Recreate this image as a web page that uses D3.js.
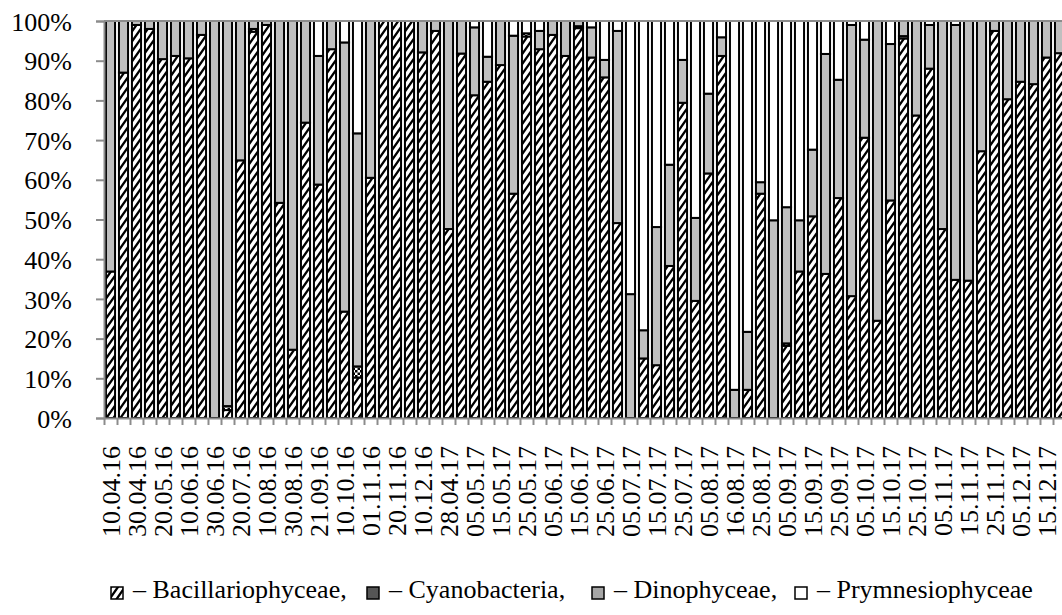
<!DOCTYPE html>
<html>
<head>
<meta charset="utf-8">
<script src="https://cdn.jsdelivr.net/npm/d3@7/dist/d3.min.js"></script>
<style>
  html, body { margin: 0; padding: 0; background: #fff; }
  svg { display: block; }
  text { font-family: "Liberation Serif", "Times New Roman", serif; fill: #000; }
</style>
</head>
<body>
<svg id="chart" width="1062" height="615"></svg>
<script>
// Sampling dates (one label for every second sample)
const dates = ["10.04.16","30.04.16","20.05.16","10.06.16","30.06.16","20.07.16","10.08.16",
  "30.08.16","21.09.16","10.10.16","01.11.16","20.11.16","10.12.16","28.04.17","05.05.17",
  "15.05.17","25.05.17","05.06.17","15.06.17","25.06.17","05.07.17","15.07.17","25.07.17",
  "05.08.17","16.08.17","25.08.17","05.09.17","15.09.17","25.09.17","05.10.17","15.10.17",
  "25.10.17","05.11.17","15.11.17","25.11.17","05.12.17","15.12.17"];

// Share of each group in total phytoplankton, % (74 samples)
const bacillariophyceae = [36.9,87.0,99.0,98.0,90.4,91.2,90.6,96.5,0,2.0,64.9,97.3,99.0,54.2,17.2,74.4,
  58.8,92.9,26.8,10.2,60.5,100,100,100,92.1,97.5,47.6,91.8,81.3,84.7,88.9,56.5,96.1,92.9,96.5,91.2,
  98.2,90.8,85.8,49.1,0,15.0,13.3,38.3,79.4,29.5,61.6,91.2,0,7.1,56.5,0,18.2,36.9,50.8,36.3,55.4,
  30.7,70.6,24.5,54.8,95.6,76.2,88.0,47.6,34.8,34.6,67.2,97.5,80.3,84.7,84.1,90.8,91.9];
const cyanobacteria = [0,0,0,0,0,0,0,0,0,1.0,0,0.7,0,0,0,0,
  0,0,0,2.8,0,0,0,0,0,0,0,0,0,0,0,0,0.8,0,0,0,
  0.5,0,0,0,0,0,0,0,0,0,0,0,0,0,0,0,0.6,0,0,0,0,
  0,0,0,0,0.6,0,0,0,0,0,0,0,0,0,0,0,0];
const dinophyceae = [63.1,13.0,1.0,2.0,9.6,8.8,9.4,3.5,100,97.0,35.1,2.0,1.0,45.8,82.8,25.6,
  32.4,7.1,67.8,58.7,39.5,0,0,0,7.9,2.5,52.4,8.2,17.1,6.3,11.1,39.8,0,4.6,3.5,8.8,
  1.3,7.6,4.4,48.4,31.2,7.1,34.8,25.5,10.8,20.9,20.1,4.7,7.1,14.6,2.9,49.8,34.3,12.9,16.8,55.4,29.8,
  68.3,24.7,75.5,39.4,3.8,23.8,11.0,52.4,64.2,65.4,32.8,2.5,19.7,15.3,15.9,9.2,8.1];
const prymnesiophyceae = [0,0,0,0,0,0,0,0,0,0,0,0,0,0,0,0,
  8.8,0,5.4,28.3,0,0,0,0,0,0,0,0,1.6,9.0,0,3.7,3.1,2.5,0,0,
  0,1.6,9.8,2.5,68.8,77.9,51.9,36.2,9.8,49.6,18.3,4.1,92.9,78.3,40.6,50.2,46.9,50.2,32.4,8.3,14.8,
  1.0,4.7,0,5.8,0,0,1.0,0,1.0,0,0,0,0,0,0,0,0];

const groups = ["Bacillariophyceae","Cyanobacteria","Dinophyceae","Prymnesiophyceae"];
const yTicks = [0,10,20,30,40,50,60,70,80,90,100];
const serif = "Liberation Serif, Times New Roman, serif";

const rows = bacillariophyceae.map((b, i) => ({
  i,
  Bacillariophyceae: b,
  Cyanobacteria: cyanobacteria[i],
  Dinophyceae: dinophyceae[i],
  Prymnesiophyceae: prymnesiophyceae[i]
}));

const svg = d3.select("#chart");
const plotLeft = 104, plotTop = 21, plotBottom = 418;
const step = 13;
const n = rows.length;

// Fill patterns
const defs = svg.append("defs");
const hatch = defs.append("pattern").attr("id", "hatch")
  .attr("patternUnits", "userSpaceOnUse").attr("width", 7).attr("height", 10);
hatch.append("rect").attr("width", 7).attr("height", 10).attr("fill", "#fff");
hatch.append("path").attr("d", "M0,10 L7,0 M-1,1.43 L1,-1.43 M6,11.43 L8,8.57")
  .attr("stroke", "#000").attr("stroke-width", 2.3).attr("stroke-linecap", "square");

const checker = defs.append("pattern").attr("id", "checker")
  .attr("patternUnits", "userSpaceOnUse").attr("width", 5).attr("height", 5);
checker.append("rect").attr("width", 5).attr("height", 5).attr("fill", "#fff");
checker.append("rect").attr("width", 2.5).attr("height", 2.5).attr("fill", "#000");
checker.append("rect").attr("x", 2.5).attr("y", 2.5).attr("width", 2.5).attr("height", 2.5).attr("fill", "#000");

const fills = {
  Bacillariophyceae: "url(#hatch)",
  Cyanobacteria: "url(#checker)",
  Dinophyceae: "#bfbfbf",
  Prymnesiophyceae: "#ffffff"
};

const x = d3.scaleBand().domain(d3.range(n)).range([plotLeft, plotLeft + n * step]).paddingInner(0.3).paddingOuter(0.15);
const xEdge = d3.scaleLinear().domain([0, n]).range([plotLeft, plotLeft + n * step]);
const y = d3.scaleLinear().domain([0, 100]).range([plotBottom, plotTop]);

// Stacked bars
const series = d3.stack().keys(groups)(rows);
svg.append("g").selectAll("g").data(series).join("g")
  .attr("fill", d => fills[d.key])
  .selectAll("rect").data(d => d.filter(p => p[1] - p[0] > 0)).join("rect")
  .attr("x", d => x(d.data.i))
  .attr("width", x.bandwidth())
  .attr("y", d => y(d[1]))
  .attr("height", d => y(d[0]) - y(d[1]))
  .attr("stroke", "#000")
  .attr("stroke-width", 2);

// Top frame line
svg.append("line").attr("x1", plotLeft).attr("x2", 1062).attr("y1", plotTop).attr("y2", plotTop)
  .attr("stroke", "#8c8c8c").attr("stroke-width", 2);

// Y axis
const yAxis = svg.append("g").attr("transform", `translate(${plotLeft},0)`)
  .call(d3.axisLeft(y).tickValues(yTicks).tickFormat(d => d + "%").tickSize(8).tickPadding(24));
yAxis.attr("font-family", serif);
yAxis.select(".domain").attr("stroke", "#8c8c8c").attr("stroke-width", 2);
yAxis.selectAll(".tick line").attr("stroke", "#8c8c8c").attr("stroke-width", 2);
yAxis.selectAll("text").attr("font-size", 26).attr("font-family", serif).attr("dy", "0.35em");

// X axis line with category boundary ticks
const xAxis = svg.append("g").attr("transform", `translate(0,${plotBottom})`)
  .call(d3.axisBottom(xEdge).tickValues(d3.range(n + 1)).tickFormat("").tickSize(7).tickSizeOuter(0));
xAxis.select(".domain").attr("stroke", "#8c8c8c").attr("stroke-width", 2);
xAxis.selectAll(".tick line").attr("stroke", "#8c8c8c").attr("stroke-width", 2);

// Date labels, every second sample
const labelAxis = svg.append("g").attr("transform", `translate(0,${plotBottom})`)
  .call(d3.axisBottom(x).tickValues(d3.range(0, n, 2)).tickFormat(i => dates[i / 2]).tickSize(0));
labelAxis.attr("font-family", serif);
labelAxis.select(".domain").remove();
labelAxis.selectAll("text")
  .attr("font-size", 26).attr("font-family", serif)
  .attr("transform", "rotate(-90)")
  .attr("text-anchor", "end")
  .attr("x", -28).attr("y", 0).attr("dy", "0.35em");

// Legend
const legendItems = [
  { key: "Bacillariophyceae", label: "– Bacillariophyceae,", x: 111 },
  { key: "Cyanobacteria", label: "– Cyanobacteria,", x: 367 },
  { key: "Dinophyceae", label: "– Dinophyceae,", x: 592 },
  { key: "Prymnesiophyceae", label: "– Prymnesiophyceae", x: 795 }
];
const legendFill = {
  Bacillariophyceae: "url(#hatch)",
  Cyanobacteria: "#555555",
  Dinophyceae: "#a6a6a6",
  Prymnesiophyceae: "#ffffff"
};
const legend = svg.append("g");
const li = legend.selectAll("g").data(legendItems).join("g")
  .attr("transform", d => `translate(${d.x},587)`);
li.append("rect").attr("width", 12).attr("height", 12)
  .attr("fill", d => legendFill[d.key]).attr("stroke", "#000").attr("stroke-width", 1.5);
li.append("text").attr("x", 22).attr("y", 11).attr("font-size", 26).attr("font-family", serif)
  .text(d => d.label);
</script>
</body>
</html>
